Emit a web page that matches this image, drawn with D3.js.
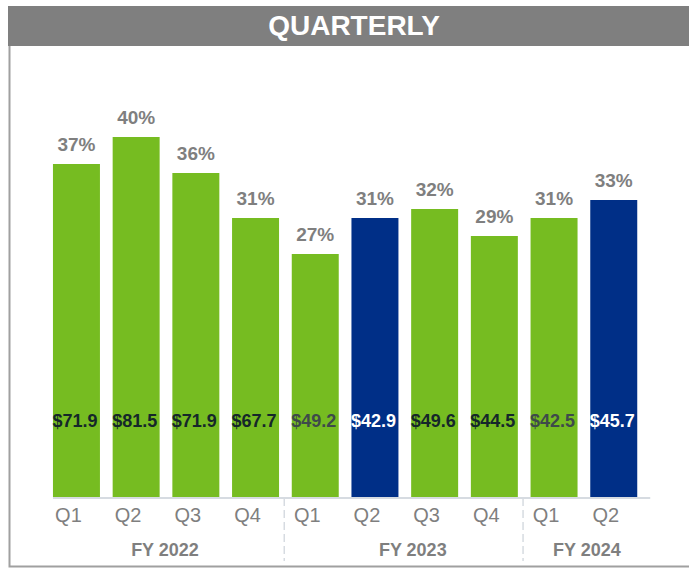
<!DOCTYPE html>
<html>
<head>
<meta charset="utf-8">
<script src="https://cdn.jsdelivr.net/npm/d3@7"></script>
<style>
  html, body { margin: 0; padding: 0; background: #fff; }
  svg { display: block; font-family: "Liberation Sans", Arial, sans-serif; }
</style>
</head>
<body>
<div id="chart"></div>
<script>
// Chart data
const quarters = ["Q1", "Q2", "Q3", "Q4", "Q1", "Q2", "Q3", "Q4", "Q1", "Q2"];
const fiscalYears = ["FY 2022", "FY 2022", "FY 2022", "FY 2022",
  "FY 2023", "FY 2023", "FY 2023", "FY 2023", "FY 2024", "FY 2024"];
const marginPct = [37, 40, 36, 31, 27, 31, 32, 29, 31, 33];
const revenue = [71.9, 81.5, 71.9, 67.7, 49.2, 42.9, 49.6, 44.5, 42.5, 45.7];
const highlighted = [false, false, false, false, false, true, false, false, false, true];
const title = "QUARTERLY";

const width = 689, height = 568;
const baseY = 497;
const green = "#76bc21", blue = "#002f87", grey = "#7f7f7f";
// labels drawn in a lighter tone in the original
const mutedIdx = new Set([4, 8]);

const svg = d3.select("#chart").append("svg")
  .attr("width", width)
  .attr("height", height);

// Header band and frame
svg.append("rect")
  .attr("x", 8).attr("y", 6)
  .attr("width", width - 8).attr("height", 40)
  .attr("fill", grey);

svg.append("text")
  .attr("x", 354).attr("y", 35)
  .attr("text-anchor", "middle")
  .attr("fill", "#fff")
  .attr("font-size", 28)
  .attr("font-weight", "bold")
  .text(title);

svg.append("path")
  .attr("d", `M9.5,46 V566.5 H${width}`)
  .attr("fill", "none")
  .attr("stroke", "#a0a0a0")
  .attr("stroke-width", 2);

// Scales
const idx = d3.range(quarters.length);
const x = d3.scaleBand()
  .domain(idx)
  .range([46.6, 643.6])
  .paddingInner(0.213)
  .paddingOuter(0.1065);

const y = d3.scaleLinear()
  .domain([0, 40])
  .range([baseY, 137]);

// Bars
svg.append("g").selectAll("rect")
  .data(idx)
  .join("rect")
  .attr("x", i => x(i))
  .attr("y", i => y(marginPct[i]))
  .attr("width", x.bandwidth())
  .attr("height", i => y(0) - y(marginPct[i]))
  .attr("fill", i => highlighted[i] ? blue : green);

// Percent labels above bars
svg.append("g").selectAll("text")
  .data(idx)
  .join("text")
  .attr("x", i => x(i) + x.bandwidth() / 2)
  .attr("y", i => y(marginPct[i]) - 13)
  .attr("text-anchor", "middle")
  .attr("fill", grey)
  .attr("font-size", 19)
  .attr("font-weight", "bold")
  .text(i => marginPct[i] + "%");

// Revenue labels inside bars
svg.append("g").selectAll("text")
  .data(idx)
  .join("text")
  .attr("x", i => x(i) + x.bandwidth() / 2 - 1.5)
  .attr("y", 427)
  .attr("text-anchor", "middle")
  .attr("fill", i => highlighted[i] ? "#fff" : (mutedIdx.has(i) ? "#3e4a4a" : "#15272a"))
  .attr("font-size", 18)
  .attr("font-weight", "bold")
  .text(i => "$" + revenue[i].toFixed(1));

// Baseline
svg.append("line")
  .attr("x1", x(0)).attr("x2", x(idx.length - 1) + x.bandwidth() + 13)
  .attr("y1", baseY + 1).attr("y2", baseY + 1)
  .attr("stroke", "#d6dbe1")
  .attr("stroke-width", 2);

// Quarter axis (labels sit slightly left of bar centres in the original)
const axis = svg.append("g")
  .attr("transform", `translate(-8,${baseY})`)
  .call(d3.axisBottom(x).tickFormat(i => quarters[i]).tickSize(0).tickPadding(25));
axis.select(".domain").remove();
axis.selectAll("text")
  .attr("fill", grey)
  .attr("font-size", 20)
  .attr("font-family", "Liberation Sans, Arial, sans-serif")
  .attr("dy", "0");

// Fiscal year groups
const groups = Array.from(d3.group(idx, i => fiscalYears[i]), ([label, members]) => ({
  label,
  start: x(members[0]),
  end: x(members[members.length - 1]) + x.bandwidth()
}));

svg.append("g").selectAll("text")
  .data(groups)
  .join("text")
  .attr("x", (d, i) => (d.start + d.end) / 2 + (i === 1 ? 8 : (i === 2 ? 3 : -1)))
  .attr("y", 556)
  .attr("text-anchor", "middle")
  .attr("fill", grey)
  .attr("font-size", 18)
  .attr("font-weight", "bold")
  .text(d => d.label);

// Dashed separators between years
svg.append("g").selectAll("line")
  .data(groups.slice(1))
  .join("line")
  .attr("x1", d => d.start - 7.5).attr("x2", d => d.start - 7.5)
  .attr("y1", baseY + 1).attr("y2", 561)
  .attr("stroke", "#d6dbe1")
  .attr("stroke-width", 1.5)
  .attr("stroke-dasharray", "8,4");
</script>
</body>
</html>
